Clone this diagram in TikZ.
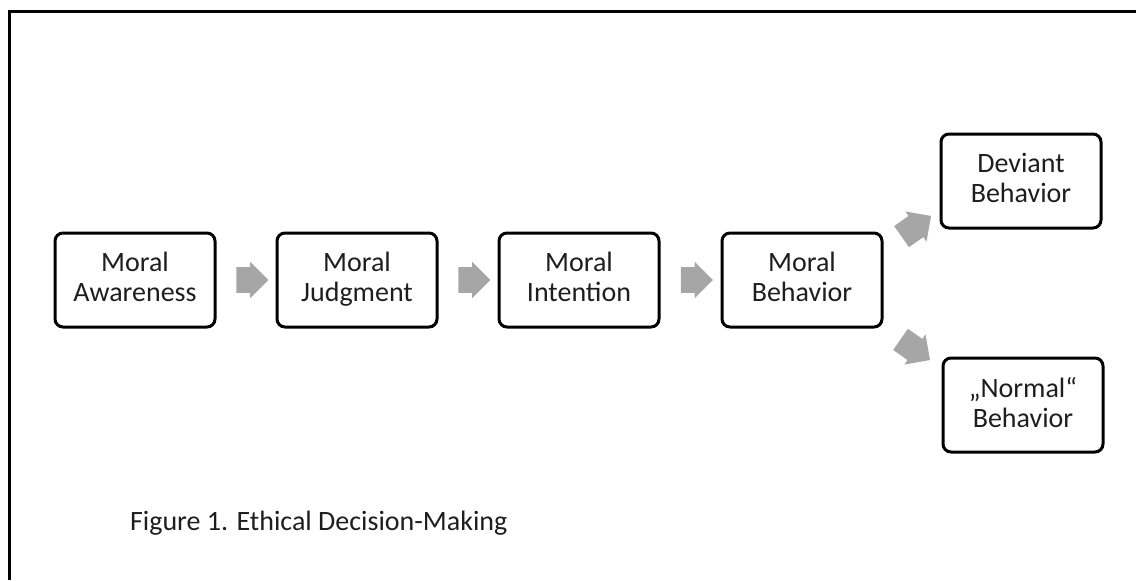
\documentclass[tikz,border=0pt]{standalone}
\usepackage{fontspec}
\setmainfont{Carlito}
\usetikzlibrary{shapes}
\usetikzlibrary{shapes.arrows}
\usetikzlibrary{calc}
\definecolor{arrowgray}{RGB}{166,166,166}
\definecolor{textgray}{RGB}{30,30,30}
\tikzset{
    stage/.style = {rectangle, rounded corners=4pt, line width=1.5pt, draw=black, align=center,
                    minimum width=80pt, minimum height=47pt, text=textgray, text depth=3pt,
                    font=\fontsize{14}{15}\selectfont},
    flow/.style = {single arrow, fill=arrowgray, draw=none, inner xsep=0pt, inner ysep=6.25pt,
                   minimum height=16pt, single arrow head extend=2.75pt,
                   single arrow head indent=0pt},
    caption/.style = {anchor=west, text=textgray, font=\fontsize{14}{15}\selectfont}
}
\begin{document}
\begin{tikzpicture}[x=0.5pt,y=-0.5pt]
\useasboundingbox (0,0) rectangle (1136,580);
%
\draw[line width=1.5pt] (9,580) -- (9,11) -- (1136,11);
%
\node[stage] at (135,280) (aware) {Moral\\Awareness};
\node[stage] at (357,280) (judge) {Moral\\Judgment};
\node[stage] at (579,280) (intent) {Moral\\Intention};
\node[stage] at (802,280) (behav) {Moral\\Behavior};
\node[stage] at (1021,181) (deviant) {Deviant\\Behavior};
\node[stage] at (1023,405) (normal) {„Normal“\\Behavior};
\node[caption] at (123,523) (fig) {Figure 1. Ethical Decision-Making};
%
\node[flow] at ($(aware.east)!0.5!(judge.west)$) (a1) {};
\node[flow] at ($(judge.east)!0.5!(intent.west)$) (a2) {};
\node[flow] at ($(intent.east)!0.5!(behav.west)$) (a3) {};
\node[flow, rotate=35, minimum height=18pt] at (911,230) (a4) {};
\node[flow, rotate=-35, minimum height=18pt] at (910,346) (a5) {};
\end{tikzpicture}
\end{document}
